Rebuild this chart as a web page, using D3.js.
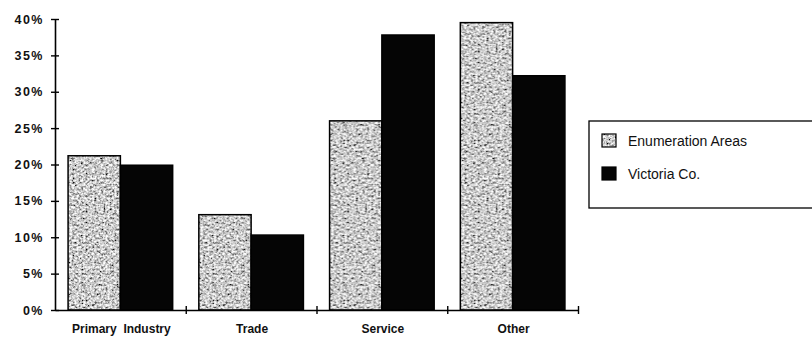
<!DOCTYPE html>
<html>
<head>
<meta charset="utf-8">
<script src="https://cdn.jsdelivr.net/npm/d3@7"></script>
<style>
  body { margin: 0; background: #fff; }
  svg { display: block; }
</style>
</head>
<body>
<div id="chart"></div>
<script>
// categories, series and tick labels
var categories = ["Primary  Industry", "Trade", "Service", "Other"];
var seriesNames = ["Enumeration Areas", "Victoria Co."];
var enumAreas = [21.2, 13.1, 26.0, 39.5];
var victoriaCo = [19.9, 10.3, 37.8, 32.2];
var yTicks = [0, 5, 10, 15, 20, 25, 30, 35, 40];

function init() {
	var w = 812, h = 337;
	var left = 55, right = 578, top = 19, bottom = 310;
	var font = "Liberation Sans, Arial, sans-serif";

	var svg = d3.select("#chart").append("svg")
		.attr("width", w)
		.attr("height", h);

	// stippled gray fill: noise filter inside a tiled pattern
	var defs = svg.append("defs");
	var filt = defs.append("filter").attr("id", "grain")
		.attr("x", 0).attr("y", 0).attr("width", 1).attr("height", 1);
	filt.append("feTurbulence").attr("type", "fractalNoise")
		.attr("baseFrequency", 0.45).attr("numOctaves", 4).attr("seed", 11)
		.attr("result", "noise");
	filt.append("feColorMatrix").attr("in", "noise").attr("type", "matrix")
		.attr("values", "1.9 0 0 0 -0.36  1.9 0 0 0 -0.36  1.9 0 0 0 -0.36  0 0 0 0 1");
	var pat = defs.append("pattern").attr("id", "stipple")
		.attr("patternUnits", "userSpaceOnUse")
		.attr("width", 160).attr("height", 160);
	pat.append("rect").attr("width", 160).attr("height", 160)
		.attr("fill", "#999").attr("filter", "url(#grain)");

	var x0 = d3.scaleBand()
		.domain(categories)
		.range([left, right])
		.paddingInner(0.2)
		.paddingOuter(0.1);
	var x1 = d3.scaleBand()
		.domain(seriesNames)
		.range([0, x0.bandwidth()]);
	var y = d3.scaleLinear().domain([0, 40]).range([bottom, top]);

	var colors = { "Enumeration Areas": "url(#stipple)", "Victoria Co.": "#050505" };

	var rows = categories.map(function(c, i) {
		return { cat: c, vals: [
			{ s: seriesNames[0], v: enumAreas[i] },
			{ s: seriesNames[1], v: victoriaCo[i] }
		]};
	});

	var g = svg.selectAll("g.grp").data(rows).enter().append("g")
		.attr("class", "grp")
		.attr("transform", function(d) { return "translate(" + x0(d.cat) + ",0)"; });

	g.selectAll("rect").data(function(d) { return d.vals; }).enter().append("rect")
		.attr("x", function(d) { return x1(d.s); })
		.attr("y", function(d) { return y(d.v); })
		.attr("width", x1.bandwidth())
		.attr("height", function(d) { return bottom - y(d.v); })
		.attr("fill", function(d) { return colors[d.s]; })
		.attr("stroke", "#000")
		.attr("stroke-width", 1.5);

	// y axis
	var yAxis = d3.axisLeft(y)
		.tickValues(yTicks)
		.tickSizeInner(4)
		.tickSizeOuter(0)
		.tickFormat(function(d) { return d + "%"; });
	var ya = svg.append("g")
		.attr("transform", "translate(" + left + ",0)")
		.call(yAxis);
	ya.select(".domain").attr("stroke", "#000").attr("stroke-width", 1.6);
	ya.selectAll(".tick line").attr("x2", -4).attr("x1", 4)
		.attr("stroke", "#000").attr("stroke-width", 1.4);
	ya.selectAll(".tick text")
		.attr("x", -11)
		.attr("font-family", font)
		.attr("font-size", "12.5px")
		.attr("font-weight", "bold")
		.attr("letter-spacing", "1.5px")
		.attr("fill", "#111");

	// x axis with ticks between categories
	var xScaleLin = d3.scaleLinear().domain([0, categories.length]).range([left, right]);
	var xAxis = d3.axisBottom(xScaleLin)
		.tickValues(d3.range(1, categories.length + 1))
		.tickSizeInner(4)
		.tickSizeOuter(0)
		.tickFormat("");
	var xa = svg.append("g")
		.attr("transform", "translate(0," + bottom + ")")
		.call(xAxis);
	xa.select(".domain").attr("stroke", "#000").attr("stroke-width", 1.6);
	xa.selectAll(".tick line").attr("y1", -4).attr("y2", 4)
		.attr("stroke", "#000").attr("stroke-width", 1.4);

	// category labels
	svg.selectAll("text.cat").data(categories).enter().append("text")
		.attr("class", "cat")
		.attr("x", function(d) { return x0(d) + x0.bandwidth() / 2 + 1; })
		.attr("y", 333)
		.attr("text-anchor", "middle")
		.attr("font-family", font)
		.attr("font-size", "12px")
		.attr("font-weight", "bold")
		.attr("fill", "#111")
		.style("white-space", "pre")
		.text(function(d) { return d; });

	// legend
	var lg = svg.append("g");
	lg.append("rect")
		.attr("x", 589).attr("y", 121)
		.attr("width", 240).attr("height", 87)
		.attr("fill", "#fff").attr("stroke", "#000").attr("stroke-width", 1.3);
	var items = lg.selectAll("g.item").data(seriesNames).enter().append("g")
		.attr("class", "item")
		.attr("transform", function(d, i) { return "translate(602," + (134 + i * 33) + ")"; });
	items.append("rect")
		.attr("width", 14).attr("height", 13)
		.attr("fill", function(d) { return colors[d]; })
		.attr("stroke", "#000").attr("stroke-width", 1.2);
	items.append("text")
		.attr("x", 26).attr("y", 11.5)
		.attr("font-family", font)
		.attr("font-size", "14px")
		.attr("fill", "#111")
		.text(function(d) { return d; });
}

window.onload = init;
</script>
</body>
</html>
